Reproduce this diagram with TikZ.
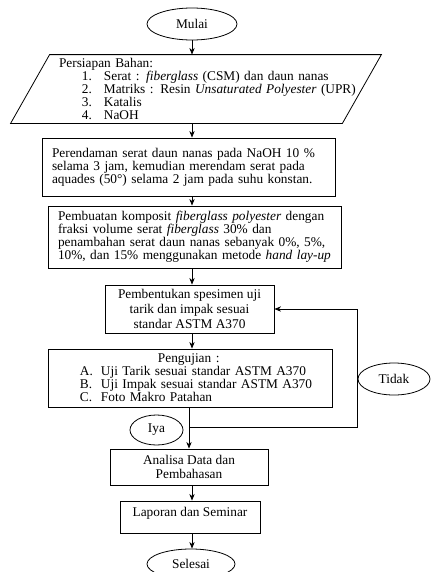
\documentclass[tikz,border=0pt]{standalone}
\usepackage{fontspec}
\setmainfont{Liberation Serif}
\usetikzlibrary{arrows.meta, positioning, shapes.geometric, calc}

\newcommand{\butir}[1]{\hspace*{38.6pt}\makebox[16.5pt][l]{#1}}
\newcommand{\uitem}[1]{\hspace*{24pt}\makebox[15.75pt][l]{#1}}

\begin{document}
\begin{tikzpicture}[
    x=0.75pt, y=-0.75pt, semithick,
    >={Stealth[length=5pt, width=4pt]},
    pnode/.style={draw, rectangle, inner sep=0pt,
                  font=\fontsize{10}{9.75}\selectfont},
    tnode/.style={draw, ellipse, inner sep=0pt,
                  font=\fontsize{10}{12}\selectfont}
  ]
  \useasboundingbox (0,0) rectangle (430,572);

  \node[tnode, minimum width=67.5pt, minimum height=24pt] (mulai) at (192,24) {Mulai};

  % bahan (parallelogram)
  \node[pnode, draw=none, text width=248.25pt, minimum height=51pt, align=left]
    (bahan) at (196,89)
    {\hspace*{21.4pt}Persiapan Bahan:\\
     \butir{1.}Serat : \textit{fiberglass} (CSM) dan daun nanas\\
     \butir{2.}Matriks : Resin \textit{Unsaturated Polyester} (UPR)\\
     \butir{3.}Katalis\\
     \butir{4.}NaOH};
  \draw ($(bahan.north west)+(19.5,0)$) -- ($(bahan.north east)+(19.5,0)$)
     -- ($(bahan.south east)+(-19.5,0)$) -- ($(bahan.south west)+(-19.5,0)$) -- cycle;

  \node[pnode, minimum width=219.75pt, minimum height=43.5pt, text width=204.75pt, align=left]
    (rendam) at (188.5,167)
    {Perendaman serat daun nanas pada NaOH 10 \%\\
     selama 3 jam, kemudian merendam serat pada\\
     aquades (50°) selama 2 jam pada suhu konstan.};

  \node[pnode, minimum width=219.75pt, minimum height=46.5pt, text width=204.75pt, align=left]
    (buat) at (194.5,237)
    {Pembuatan komposit \textit{fiberglass polyester} dengan\\
     fraksi volume serat \textit{fiberglass} 30\% dan\\
     penambahan serat daun nanas sebanyak 0\%, 5\%,\\
     10\%, dan 15\% menggunakan metode \textit{hand lay-up}};

  \node[pnode, minimum width=126.75pt, minimum height=36pt, align=center,
        font=\fontsize{10}{11}\selectfont]
    (bentuk) at (189.5,309)
    {Pembentukan spesimen uji\\ tarik dan impak sesuai\\ standar ASTM A370};

  \node[pnode, minimum width=213pt, minimum height=43.5pt, text width=213pt, align=left]
    (uji) at (190,378)
    {\hspace*{82.5pt}Pengujian :\\
     \uitem{A.}Uji Tarik sesuai standar ASTM A370\\
     \uitem{B.}Uji Impak sesuai standar ASTM A370\\
     \uitem{C.}Foto Makro Patahan};

  \node[tnode, minimum width=39.75pt, minimum height=22.5pt] (iya) at (156.5,430) {Iya};
  \node[tnode, minimum width=54pt, minimum height=24pt] (tidak) at (394,379) {Tidak};

  \node[pnode, minimum width=118.5pt, minimum height=27pt, align=center,
        font=\fontsize{10}{11}\selectfont]
    (analisa) at (189,467) {Analisa Data dan\\ Pembahasan};

  \node[pnode, minimum width=105pt, minimum height=24pt, text depth=7pt]
    (laporan) at (190,517) {Laporan dan Seminar};

  \node[tnode, minimum width=66pt, minimum height=22.5pt] (selesai) at (191,564) {Selesai};

  % alur
  \draw[->] (mulai) -- (mulai |- bahan.north);
  \draw[->] (bahan.south -| mulai.south) -- (rendam.north -| mulai.south);
  \draw[->] (rendam.south -| mulai.south) -- (buat.north -| mulai.south);
  \draw[->] (buat.south -| mulai.south) -- (bentuk.north -| mulai.south);
  \draw[->] (bentuk.south -| mulai.south) -- (uji.north -| mulai.south);
  \draw[->] (uji.south -| analisa) -- (analisa.north);
  \draw[->] (analisa.south -| mulai.south) -- (laporan.north -| mulai.south);
  \draw[->] (laporan.south -| mulai.south) -- (selesai.north -| mulai.south);

  % kembali ke pembentukan spesimen
  \coordinate (balik) at (357,427);
  \draw[->] (balik -| analisa) -- (balik) |- (bentuk.east);
\end{tikzpicture}
\end{document}
